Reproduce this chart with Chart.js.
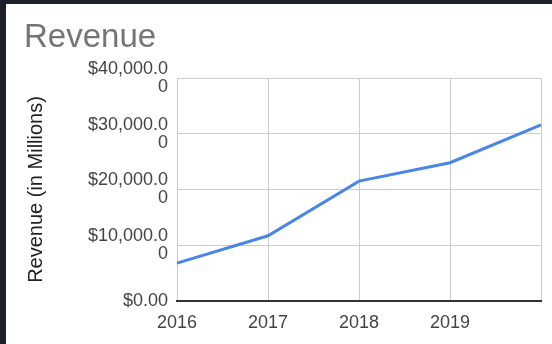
<!DOCTYPE html>
<html>
<head>
<meta charset="utf-8">
<script src="https://cdn.jsdelivr.net/npm/chart.js@4"></script>
<style>
  html, body { margin: 0; padding: 0; background: #1b202b; }
  #box { position: absolute; left: 6px; top: 4px; width: 546px; height: 340px; background: #fff; }
</style>
</head>
<body>
<div id="box"><canvas id="revChart" width="546" height="340"></canvas></div>
<script>
// values
const years = ['2016', '2017', '2018', '2019', '2020'];
const xTickLabels = ['2016', '2017', '2018', '2019', ''];
const revenue = [6800, 11700, 21500, 24800, 31600];
const yTicks = [0, 10000, 20000, 30000, 40000];

// Google style money label, wrapped after 9 characters
function moneyLabel(v) {
    const txt = '$' + v.toLocaleString('en-US', { minimumFractionDigits: 2, maximumFractionDigits: 2 });
    if (txt.length > 9) return [txt.slice(0, 9), txt.slice(9)];
    return txt;
}

const font = "'Liberation Sans', Arial, sans-serif";

new Chart(document.getElementById('revChart'), {
    type: 'line',
    data: {
        labels: years,
        datasets: [{
            label: 'Revenue',
            data: revenue,
            borderColor: '#4a86e8',
            borderWidth: 3,
            pointRadius: 0,
            tension: 0,
            fill: false
        }]
    },
    options: {
        responsive: false,
        animation: false,
        layout: { padding: { left: 18, right: 8, top: 0, bottom: 0 } },
        plugins: {
            legend: { display: false },
            tooltip: { enabled: false },
            title: {
                display: true,
                text: 'Revenue',
                align: 'start',
                color: '#757575',
                font: { family: font, size: 33, weight: 'normal', lineHeight: 1.2 },
                padding: { top: 14, bottom: 20.4 }
            }
        },
        scales: {
            x: {
                offset: false,
                grid: { color: '#cccccc', drawTicks: false },
                border: { color: '#333333', width: 2 },
                ticks: {
                    color: '#444444',
                    padding: 11,
                    maxRotation: 0,
                    autoSkip: false,
                    font: { family: font, size: 18 },
                    callback: (v, i) => xTickLabels[i]
                },
                afterFit: s => { s.height = 43; }
            },
            y: {
                min: 0,
                max: 40000,
                grid: { color: '#cccccc', drawTicks: false },
                border: { display: false },
                afterBuildTicks: s => { s.ticks = yTicks.map(v => ({ value: v })); },
                ticks: {
                    color: '#444444',
                    padding: 9,
                    font: { family: font, size: 18, lineHeight: 1.0 },
                    callback: v => moneyLabel(v)
                },
                title: {
                    display: true,
                    text: 'Revenue (in Millions)',
                    color: '#222222',
                    padding: 0,
                    font: { family: font, size: 20 }
                },
                afterFit: s => { s.width = 153; }
            }
        }
    }
});
</script>
</body>
</html>
